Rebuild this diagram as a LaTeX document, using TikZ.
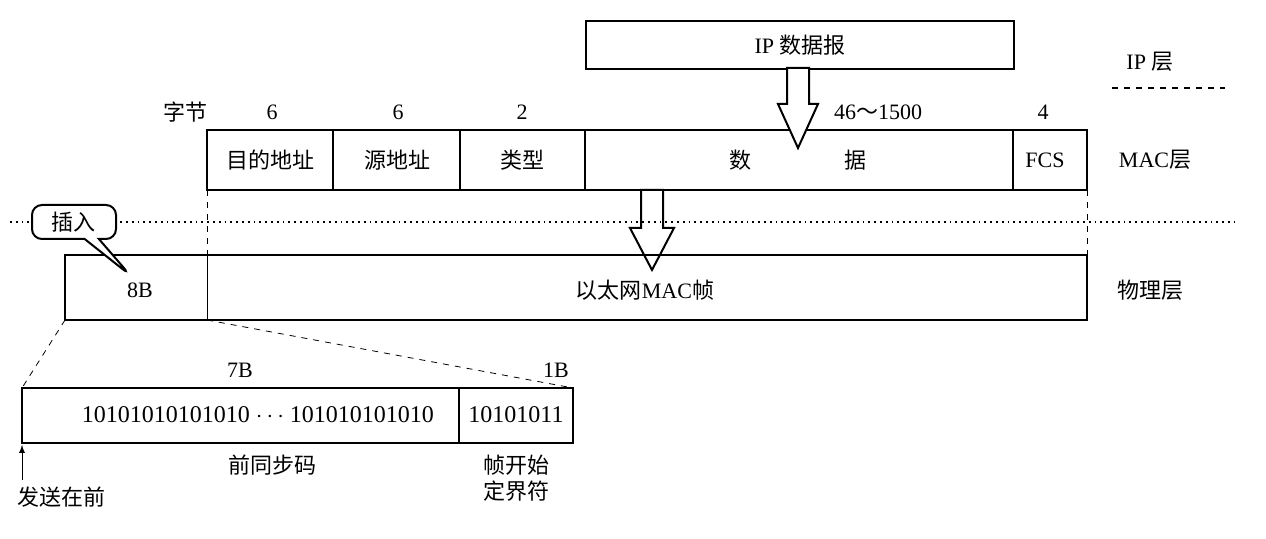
\documentclass[tikz,border=0pt]{standalone}
\usepackage{fontspec}
\setmainfont{Liberation Serif}
\newfontfamily\cjk{Noto Sans CJK SC}
\usetikzlibrary{shapes.callouts}
\begin{document}
\begin{tikzpicture}[x=0.5pt,y=-0.5pt,font=\fontsize{11}{13}\selectfont,
  bx/.style={draw,line width=1.2pt},
  t/.style={inner sep=1pt},
  hol/.style={draw,fill=white,line width=1pt}]
\useasboundingbox (0,0) rectangle (1266,539);
% IP box
\node[bx,minimum width=214pt,minimum height=24pt,anchor=north west] (ip) at (585,20) {IP {\cjk 数据报}};
\node[t] (iplayer) at (1150,62) {IP {\cjk 层}};
\draw[dashed,line width=0.8pt] (1112,88) coordinate (dl1) -- (1225,88) coordinate (dl2);
% byte labels
\node[t] (zj) at (185,112) {\cjk 字节};
\node[t] (n1) at (272,112) {6};
\node[t] (n2) at (398,112) {6};
\node[t] (n3) at (522,112) {2};
\node[t] (n4) at (878,112) {46{\cjk ～}1500};
\node[t] (n5) at (1043,112) {4};
% MAC row
\draw[bx] (207,130) rectangle (1087,190);
\foreach \x in {333,460,585,1013} \draw[line width=1.2pt] (\x,130) -- (\x,190);
\node[t] (f1) at (270,160) {\cjk 目的地址};
\node[t] (f2) at (397,160) {\cjk 源地址};
\node[t] (f3) at (522,160) {\cjk 类型};
\node[t] (f4a) at (740,160) {\cjk 数};
\node[t] (f4b) at (855,160) {\cjk 据};
\node[t] (f5) at (1045,160) {FCS};
\node[t] (mac) at (1155,160) {MAC{\cjk 层}};
% hollow arrows
\draw[hol] (787,68) -- (809,68) -- (809,104) -- (818,104) -- (798,148) -- (778,104) -- (787,104) -- cycle;
\draw[hol] (641,190) -- (663,190) -- (663,228) -- (674,228) -- (652,270) -- (630,228) -- (641,228) -- cycle;
% dashed verticals
\draw[dashed] (207,190) -- (207,255);
\draw[dashed] (1087,190) -- (1087,255);
% dotted
\draw[dotted,line width=0.9pt] (10,222) -- (1235,222);
% physical row
\draw[bx] (65,255) rectangle (1087,320);
\draw[line width=0.5pt] (207,255) -- (207,320);
\node[t] (b8) at (140,290) {8B};
\node[t] (eth) at (645,290) {{\cjk 以太网}MAC{\cjk 帧}};
\node[t] (phy) at (1150,290) {\cjk 物理层};
\node[rectangle callout,rounded corners=5pt,draw,line width=1pt,fill=white,minimum width=42pt,minimum height=17pt,callout absolute pointer={(130,275)}] (ins) at (74,222) {\cjk 插入};
% zoom dashed
\draw[dashed] (65,320) -- (22,388);
\draw[dashed] (207,320) -- (573,388);
% bottom box
\draw[bx] (22,388) rectangle (573,443);
\draw[line width=1.2pt] (459,388) -- (459,443);
\node[t,font=\fontsize{12}{14}\selectfont] (bits) at (258,415) {10101010101010 $\cdots$ 101010101010};
\node[t,font=\fontsize{12}{14}\selectfont] (sfd) at (516,415) {10101011};
\node[t] (b7) at (240,370) {7B};
\node[t] (b1) at (556,370) {1B};
\node[t] (pre) at (272,465) {\cjk 前同步码};
\node[t,align=center] (sfdl) at (516,478) {\cjk 帧开始\\\cjk 定界符};
\node[t] (send) at (62,497) {\cjk 发送在前};
\coordinate (a0) at (22,480);
\coordinate (a1) at (22,445);
\draw[-latex] (a0) -- (a1);
\end{tikzpicture}
\end{document}
